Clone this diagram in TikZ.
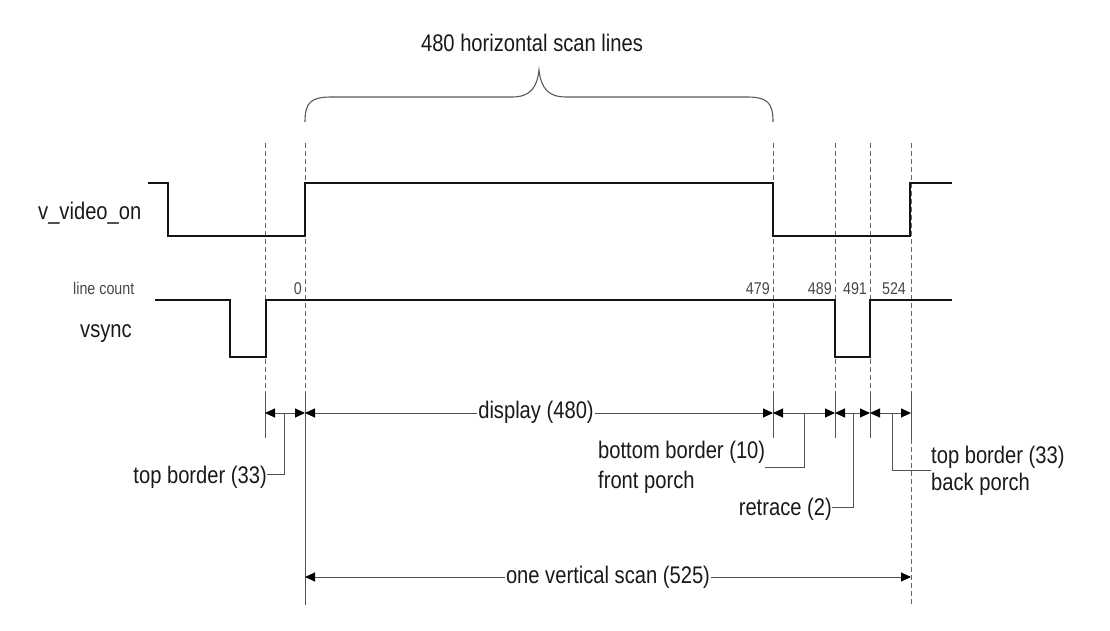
\documentclass[tikz,border=0pt]{standalone}
\usepackage{fontspec}
\setmainfont{Liberation Sans}
\newfontfamily\labfont[FakeStretch=0.84]{Liberation Sans}
\usetikzlibrary{arrows.meta}
\begin{document}
\begin{tikzpicture}[x=1pt,y=-1pt,
  sig/.style={line width=2.8pt, line join=miter, black!92},
  guide/.style={line width=0.9pt, black!60, dash pattern=on 5pt off 3pt},
  ext/.style={line width=1pt, black!68},
  dimline/.style={line width=1pt, black!68,
    {Triangle[length=10pt,width=9pt,black]}-{Triangle[length=10pt,width=9pt,black]}},
  lbl/.style={font=\labfont\fontsize{24}{28}\selectfont, text=black!90, inner sep=0pt},
  cnt/.style={font=\labfont\fontsize{17}{20}\selectfont, text=black!72, inner sep=0pt},
  lead/.style={line width=1pt, black!68},
  bracestyle/.style={line width=1.1pt, black!65}]
\useasboundingbox (0,0) rectangle (1110,631);

% guide lines
\draw[guide] (265,143) -- (265,438);
\draw[guide] (305,143) -- (305,392);
\draw[guide] (773,143) -- (773,438);
\draw[guide] (835,143) -- (835,438);
\draw[guide] (870,143) -- (870,438);
\draw[guide] (911,143) -- (911,605);
% solid extension lines
\draw[ext] (265,392) -- (265,438);
\draw[ext] (305,392) -- (305,605);
\draw[ext] (773,392) -- (773,438);
\draw[ext] (835,392) -- (835,438);
\draw[ext] (870,392) -- (870,438);
\draw[ext] (911,392) -- (911,440);

% brace
\draw[bracestyle] (305,122) .. controls (305,102) and (311,97) .. (332,97)
  -- (512,97) .. controls (530,97) and (537,88) .. (539,70)
  .. controls (541,88) and (548,97) .. (566,97)
  -- (746,97) .. controls (767,97) and (773,102) .. (773,122);
\node[lbl, anchor=base] (title) at (532,52) {480 horizontal scan lines};

% signals
\draw[sig] (148,183) -- (168,183) -- (168,236) -- (305,236) -- (305,183)
  -- (773,183) -- (773,236) -- (910,236) -- (910,183) -- (952,183);
\draw[sig] (155,300) -- (230,300) -- (230,357) -- (266,357) -- (266,300)
  -- (835,300) -- (835,357) -- (870,357) -- (870,300) -- (952,300);

% signal labels
\node[lbl, anchor=base west] (vvo) at (38,219) {v\_video\_on};
\node[lbl, anchor=base west] (vs) at (80,337) {vsync};
\node[cnt, anchor=base west] (lc) at (73,294) {line count};
\node[cnt, anchor=base east] (c0) at (302,294) {0};
\node[cnt, anchor=base east] (c479) at (770,294) {479};
\node[cnt, anchor=base east] (c489) at (832,294) {489};
\node[cnt, anchor=base] (c491) at (855,294) {491};
\node[cnt, anchor=base] (c524) at (894,294) {524};

% dimension coordinates
\coordinate (A) at (265,413);
\coordinate (B) at (305,413);
\coordinate (C) at (773,413);
\coordinate (D) at (835,413);
\coordinate (E) at (870,413);
\coordinate (F) at (911,413);
\coordinate (B2) at (305,577);
\coordinate (F2) at (911,577);

\draw[dimline] (A) -- (B);
\draw[dimline] (B) -- (C);
\draw[dimline] (C) -- (D);
\draw[dimline] (D) -- (E);
\draw[dimline] (E) -- (F);
\draw[dimline] (B2) -- (F2);

\node[lbl, anchor=base, fill=white, inner xsep=1pt, inner ysep=0pt] (disp) at (536,418) {display (480)};
\node[lbl, anchor=base, fill=white, inner xsep=1pt, inner ysep=0pt] (scan) at (608,583) {one vertical scan (525)};

% leader labels
\node[lbl, anchor=base east] (tb1) at (267,483) {top border (33)};
\coordinate (tbk) at (284,474);
\draw[lead] (tb1.east |- tbk) -- (tbk) -- (tbk |- A);

\node[lbl, anchor=base west] (bb1) at (598,458) {bottom border (10)};
\node[lbl, anchor=base west] (bb2) at (598,488) {front porch};
\coordinate (bbk) at (804,467);
\draw[lead] (bb1.east |- bbk) -- (bbk) -- (bbk |- C);

\node[lbl, anchor=base east] (rt) at (832,515) {retrace (2)};
\coordinate (rtk) at (853,507);
\draw[lead] (rt.east |- rtk) -- (rtk) -- (rtk |- D);

\node[lbl, anchor=base west] (tb2) at (931,463) {top border (33)};
\node[lbl, anchor=base west] (bp) at (931,490) {back porch};
\coordinate (tbk2) at (892,470);
\draw[lead] (tb2.west |- tbk2) -- (tbk2) -- (tbk2 |- E);

\end{tikzpicture}
\end{document}
